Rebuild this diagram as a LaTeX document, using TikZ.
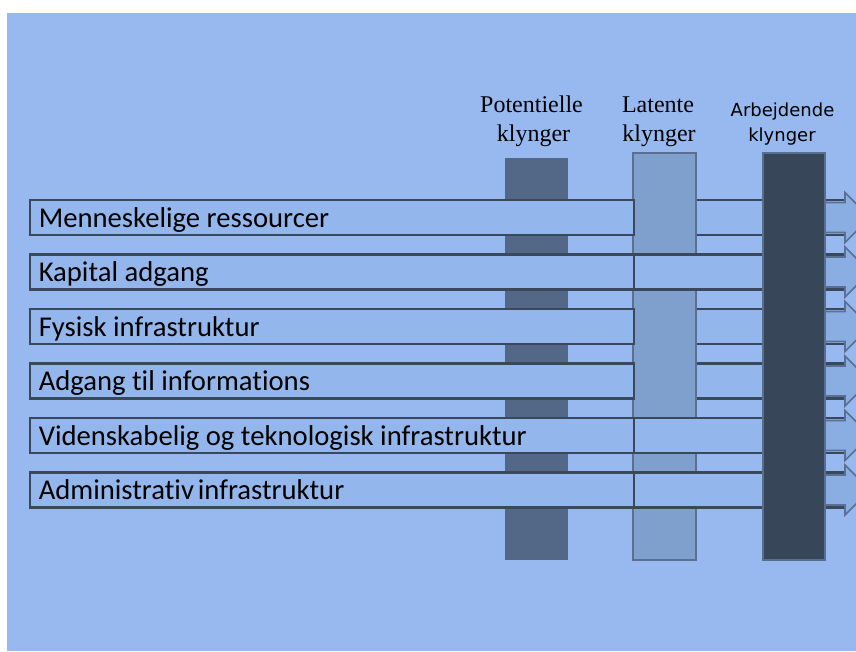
\documentclass[tikz,border=0pt]{standalone}
\usepackage{fontspec}
\setmainfont{Carlito}[Ligatures=NoCommon]
\newfontfamily\serifA{Liberation Serif}
\newfontfamily\sansB{DejaVu Sans}
\definecolor{bg}{HTML}{97B9EF}
\definecolor{rowfill}{HTML}{93B7EC}
\definecolor{rowline}{HTML}{3A485C}
\definecolor{potfill}{HTML}{536887}
\definecolor{latfill}{HTML}{7F9FCD}
\definecolor{latline}{HTML}{5A6F91}
\definecolor{arbfill}{HTML}{374659}
\definecolor{arbline}{HTML}{586E91}
\definecolor{headfill}{HTML}{8AADE2}
\begin{document}
\begin{tikzpicture}[x=0.75pt,y=-0.75pt,
  rowbox/.style={draw=rowline, fill=rowfill, line width=1.6pt, minimum height=26.25pt, inner sep=0pt},
  leftbox/.style={rowbox, minimum width=453pt},
  rightbox/.style={rowbox, minimum width=158.25pt},
  rowtext/.style={anchor=base west, inner sep=0pt, font=\fontsize{21.5}{25}\selectfont},
  bar/.style={inner sep=0pt, minimum width=47.25pt},
  headtext/.style={anchor=base, inner sep=0pt, font=\serifA\fontsize{18}{21}\selectfont},
  headtextB/.style={anchor=base, inner sep=0pt, font=\sansB\fontsize{13.5}{16}\selectfont},
  arrowshape/.style={draw=latline, line width=1.2pt, fill=headfill}
]
\useasboundingbox (0,0) rectangle (856,651);
\fill[bg] (7,13) rectangle (856,651);
% potential bar
\node[bar, fill=potfill, minimum height=301.5pt] (pot) at (536.5,359) {};
% right boxes below latente bar
\foreach \i/\c in {1/217.5,3/326.5,4/381}
  \node[rightbox] (rr\i) at (739.5,\c) {};
% latente bar
\node[bar, fill=latfill, draw=latline, line width=1.4pt, minimum height=305.25pt] (lat) at (664.5,356.5) {};
% left boxes
\foreach \i/\c in {1/217.5,2/272,3/326.5,4/381,5/435.5,6/490}
  \node[leftbox] (lb\i) at (332,\c) {};
% right boxes above latente bar
\foreach \i/\c in {2/272,5/435.5,6/490}
  \node[rightbox] (rr\i) at (739.5,\c) {};
% arbejdende bar
\node[bar, fill=arbfill, draw=arbline, line width=1.4pt, minimum width=46.5pt, minimum height=305.25pt] (arb) at (794,356.5) {};
% output arrows
\begin{scope}
\clip (825,13) rectangle (856,651);
\foreach \c in {217.5,272,326.5,381,435.5,490}
  \draw[arrowshape] (825,\c-15) -- (845,\c-15) -- (845,\c-25) -- (870,\c) -- (845,\c+25) -- (845,\c+15) -- (825,\c+15) -- cycle;
\end{scope}
% row labels
\node[rowtext] (t1) at (38.5,227) {Menneskelige ressourcer};
\node[rowtext] (t2) at (38.5,281.5) {Kapital adgang};
\node[rowtext] (t3) at (38.5,336) {Fysisk infrastruktur};
\node[rowtext] (t4) at (38.5,390.5) {Adgang til informations};
\node[rowtext] (t5) at (38.5,445) {Videnskabelig og teknologisk infrastruktur};
\node[rowtext] (t6) at (38.5,499.5) {Administrativ\hspace{-2pt} infrastruktur};
% column headings
\node[headtext] (h1a) at (531.5,112) {Potentielle};
\node[headtext] (h1b) at (533.5,141) {klynger};
\node[headtext] (h2a) at (658,112) {Latente};
\node[headtext] (h2b) at (659,141) {klynger};
\node[headtextB] (h3a) at (782.5,116) {Arbejdende};
\node[headtextB] (h3b) at (782,141.5) {klynger};
\end{tikzpicture}
\end{document}
